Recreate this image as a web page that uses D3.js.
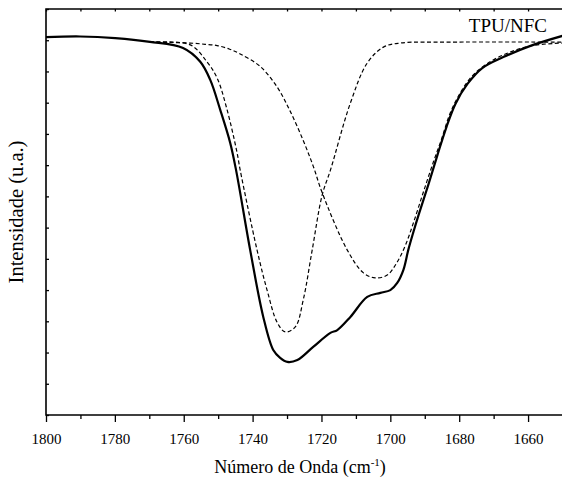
<!DOCTYPE html>
<html><head><meta charset="utf-8">
<script src="https://cdn.jsdelivr.net/npm/d3@7"></script>
<style>body{margin:0;background:#fff}svg{display:block}</style>
</head><body><svg id="c" width="562" height="478"></svg>
<script>
// ---- data ----
const majorTicks = [1800,1780,1760,1740,1720,1700,1680,1660];
const minorTicks = [1790,1770,1750,1730,1710,1690,1670,1650];
const yTicks = [0,0.1,0.2,0.3,0.4,0.5,0.6,0.7,0.8,0.9,1.0,1.1,1.2,1.3];

const solidWn  = [1800,1790.1,1779.9,1769.8,1760.2,1755.2,1752.3,1749.4,1746.5,1744.8,1740.7,1736.9,1734.0,1732.0,1729.9,1727.0,1722.4,1717.4,1715.4,1711.6,1706.7,1702.9,1700.0,1698.0,1696.2,1694.8,1693.3,1691.9,1689.0,1686.3,1683.7,1681.1,1677.6,1673.3,1667.2,1659.3,1650.0];
const solidInt = [1.210,1.212,1.207,1.195,1.175,1.131,1.073,0.977,0.871,0.784,0.528,0.314,0.208,0.183,0.170,0.176,0.218,0.263,0.272,0.314,0.378,0.391,0.400,0.423,0.465,0.528,0.586,0.637,0.736,0.833,0.922,0.996,1.060,1.111,1.146,1.182,1.214];

const peak1Wn  = [1769.8,1758.1,1753.2,1750.3,1747.4,1744.5,1743.6,1738.7,1735.8,1732.8,1730.5,1727.6,1725.3,1722.7,1719.8,1717.4,1711.6,1706.7,1702.0,1697.1,1682.6,1650.0];
const peak1Int = [1.194,1.185,1.130,1.079,0.977,0.839,0.784,0.528,0.400,0.295,0.266,0.282,0.368,0.528,0.704,0.784,0.999,1.127,1.178,1.191,1.194,1.194];

const peak2Wn  = [1769.8,1764.0,1758.1,1753.8,1750.3,1746.8,1743.6,1737.8,1732.8,1729.1,1725.3,1722.4,1719.8,1712.5,1707.8,1704.4,1700.9,1698.0,1695.6,1693.3,1690.4,1687.5,1685.2,1682.6,1679.7,1676.5,1672.4,1667.2,1659.3,1650.0];
const peak2Int = [1.194,1.193,1.191,1.187,1.183,1.172,1.156,1.116,1.049,0.973,0.879,0.797,0.712,0.528,0.455,0.439,0.448,0.490,0.544,0.615,0.714,0.810,0.881,0.967,1.031,1.082,1.121,1.153,1.182,1.191];

// ---- chart ----
const svg = d3.select('#c');
const font = '"Liberation Serif","Times New Roman",serif';
const L = 46, R = 562.5, T = 9, B = 415;
const x = d3.scaleLinear().domain([1800,1650]).range([L,R]);
const y = d3.scaleLinear().domain([0,1.3]).range([B,T]);

const line = d3.line().x(d=>x(d[0])).y(d=>y(d[1])).curve(d3.curveCatmullRom.alpha(0.5));
const zip = (a,b)=>a.map((v,i)=>[v,b[i]]);

svg.append('path').datum(zip(peak1Wn,peak1Int)).attr('d',line)
  .attr('fill','none').attr('stroke','#000').attr('stroke-width',1.2).attr('stroke-dasharray','4,2.5');
svg.append('path').datum(zip(peak2Wn,peak2Int)).attr('d',line)
  .attr('fill','none').attr('stroke','#000').attr('stroke-width',1.2).attr('stroke-dasharray','4,2.5');
svg.append('path').datum(zip(solidWn,solidInt)).attr('d',line)
  .attr('fill','none').attr('stroke','#000').attr('stroke-width',2.2);

// axes
const gB = svg.append('g').attr('transform',`translate(0,${B})`)
  .call(d3.axisBottom(x).tickValues(majorTicks).tickSize(7).tickFormat(d3.format('d')));
const gBm = svg.append('g').attr('transform',`translate(0,${B})`)
  .call(d3.axisBottom(x).tickValues(minorTicks).tickSize(4).tickFormat(''));
const gT = svg.append('g').attr('transform',`translate(0,${T})`)
  .call(d3.axisBottom(x).tickValues(majorTicks.concat(minorTicks)).tickSize(2.5).tickFormat(''));
const gL = svg.append('g').attr('transform',`translate(${L},0)`)
  .call(d3.axisRight(y).tickValues(yTicks).tickSize(3).tickFormat(''));
[gB,gBm,gT,gL].forEach(g=>{
  g.select('.domain').remove();
  g.selectAll('line').attr('stroke','#000').attr('stroke-width',1.3);
});
gB.selectAll('text').attr('font-family',font).attr('font-size',15).attr('fill','#000').attr('dy','1.25em');

// frame
svg.append('path').attr('d',`M${R},${T}H${L}V${B}H${R}`)
  .attr('fill','none').attr('stroke','#000').attr('stroke-width',1.6);

// titles
const xt = svg.append('text').attr('x',300).attr('y',473).attr('text-anchor','middle')
  .attr('font-family',font).attr('font-size',18).attr('fill','#000');
xt.append('tspan').text('Número de Onda (cm');
xt.append('tspan').attr('dy',-7).attr('font-size',11).text('-1');
xt.append('tspan').attr('dy',7).text(')');

svg.append('text').attr('transform',`translate(23,${(T+B)/2}) rotate(-90)`).attr('text-anchor','middle')
  .attr('font-family',font).attr('font-size',20.5).attr('fill','#000').text('Intensidade (u.a.)');

svg.append('text').attr('x',547).attr('y',32).attr('text-anchor','end')
  .attr('font-family',font).attr('font-size',19).attr('fill','#000').text('TPU/NFC');
</script>
</body></html>
